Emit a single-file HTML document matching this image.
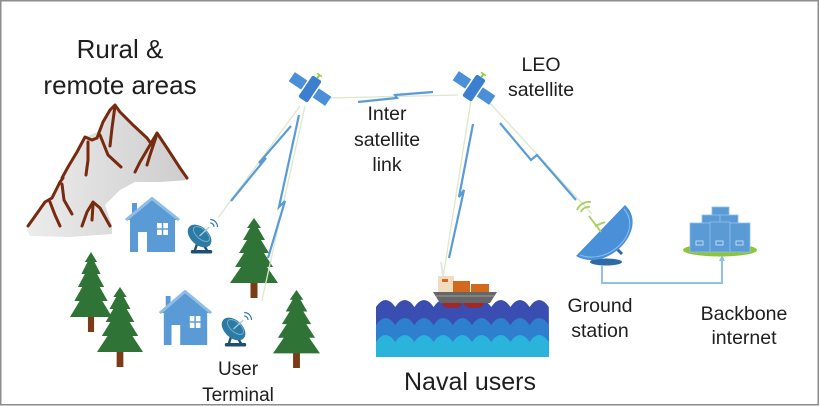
<!DOCTYPE html>
<html><head><meta charset="utf-8">
<style>
html,body{margin:0;padding:0;background:#fff;}
svg{display:block;}
text{font-family:"Liberation Sans",sans-serif;fill:#1e1e1e;}
</style></head><body>
<svg width="820" height="406" viewBox="0 0 820 406" xmlns="http://www.w3.org/2000/svg">
<defs>
<linearGradient id="mg" x1="0" y1="0" x2="1" y2="0">
<stop offset="0" stop-color="#ececec"/><stop offset="1" stop-color="#cdcdcd"/>
</linearGradient>
<symbol id="tree" viewBox="0 0 48 80" preserveAspectRatio="none">
<rect x="20.5" y="60" width="7" height="20" fill="#7a3b16"/>
<polygon points="24,0 31,10 28,10 35,22 31,22 39,35 34,35 43,49 37,49 48,65 0,65 11,49 5,49 14,35 9,35 17,22 13,22 20,10 17,10" fill="#2f7336"/>
</symbol>
<symbol id="house" viewBox="0 0 55 55" preserveAspectRatio="none">
<rect x="7" y="6" width="5" height="12" fill="#5b9bd5"/>
<polygon points="0,23 27,0 55,23 50,23 50,55 5,55 5,23" fill="#5b9bd5"/>
<polyline points="1,23 27,1.5 54,23" fill="none" stroke="#8fbde8" stroke-width="3"/>
<rect x="13" y="35" width="9" height="20" fill="#fff"/>
<rect x="32" y="26" width="11" height="12" fill="#fff"/>
<line x1="37.5" y1="26" x2="37.5" y2="38" stroke="#5b9bd5" stroke-width="1.5"/>
<line x1="32" y1="32" x2="43" y2="32" stroke="#5b9bd5" stroke-width="1.5"/>
</symbol>
<symbol id="dish" viewBox="0 0 34 36" preserveAspectRatio="none">
<path d="M13,24 L10,33 M18,25 L23,33" stroke="#1f4f70" stroke-width="2.5" fill="none"/>
<rect x="6" y="32" width="22" height="3.5" rx="1.5" fill="#1f4f70"/>
<ellipse cx="15" cy="18" rx="14" ry="9" transform="rotate(40 15 18)" fill="#2d7aa4"/>
<ellipse cx="17" cy="16" rx="10" ry="5" transform="rotate(40 17 16)" fill="none" stroke="#6fb0d2" stroke-width="1"/>
<line x1="15" y1="18" x2="25" y2="9" stroke="#a8d0e4" stroke-width="1.3"/>
<path d="M26,5 a4,4 0 0 1 4,4 M26,1.5 a7.5,7.5 0 0 1 7.5,7.5" fill="none" stroke="#2d7aa4" stroke-width="1.2"/>
</symbol>
<symbol id="sat" viewBox="-25 -25 50 50">
<g transform="rotate(34)">
<rect x="-22" y="-5.5" width="15" height="11" fill="#4a8fd8"/>
<rect x="7" y="-5.5" width="15" height="11" fill="#4a8fd8"/>
<rect x="-5.5" y="-13" width="11" height="26" rx="2" fill="#3d7fcf"/>
<line x1="0" y1="-13" x2="0" y2="-17" stroke="#9acd32" stroke-width="2"/>
<line x1="-3" y1="-17" x2="3" y2="-17" stroke="#9acd32" stroke-width="1.5"/>
</g>
</symbol>
</defs>

<rect x="0.75" y="0.75" width="817.5" height="404" fill="#fff" stroke="#8c8c8c" stroke-width="1.5"/>

<!-- Mountains -->
<polygon points="27,230 45,202 55,190 63,178 75,158 85,137 97,132 105,118 115,105 125,115 140,132 150,143 157,133 167,148 180,168 188,180 160,182 135,182 120,190 105,205 112,225 112,234 70,237 30,236" fill="url(#mg)"/>
<g fill="none" stroke="#772a0e" stroke-width="3" stroke-linecap="round" stroke-linejoin="round">
<path d="M97,138 L103,122 L110,110 L115,105 L120,112 L133,125 L147,138 L152,145"/>
<path d="M115,106 L112,128 L110,146"/>
<path d="M100,135 L108,155 L121,167"/>
<path d="M135,172 L140,162 L150,145 L157,133 L167,148 L180,168 L187,178"/>
<path d="M156,137 L150,155 L147,165"/>
<path d="M62,178 L68,167 L77,152 L85,137 L92,140 L97,138"/>
<path d="M88,142 L88,160 L86,175"/>
<path d="M28,226 L38,212 L45,202 L52,198 L56,190 L60,182 L63,178"/>
<path d="M50,202 L55,215 L60,226"/>
<path d="M62,184 L64,200 L72,214"/>
<path d="M82,226 L87,212 L93,202 L100,208 L110,226"/>
<path d="M93,205 L92,220"/>
</g>

<!-- Houses, dishes, trees -->
<use href="#house" x="125" y="197" width="55" height="55"/>
<use href="#house" x="159" y="290" width="53" height="55"/>
<use href="#dish" x="185" y="218" width="33" height="36"/>
<use href="#dish" x="219" y="311" width="33" height="36"/>
<use href="#tree" x="230" y="218" width="48" height="80"/>
<use href="#tree" x="70" y="252" width="42" height="80"/>
<use href="#tree" x="97" y="287" width="46" height="80"/>
<use href="#tree" x="273" y="290" width="47" height="78"/>

<!-- faint link lines -->
<g stroke="#dce8cc" stroke-width="1.3" fill="none">
<path d="M300,106 L218,218"/>
<path d="M305,106 L262,300"/>
<path d="M330,98 L458,95"/>
<path d="M471,100 L443,278"/>
<path d="M487,100 L592,214"/>
</g>
<!-- lightning bolts -->
<g stroke="#5b9bd5" stroke-width="2.2" fill="none" stroke-linejoin="miter">
<path d="M291,126 L259,163 L266,158 L231,201"/>
<path d="M299,115 L279,207 L285,201 L268,258"/>
<path d="M358,102 L397,98 L395,95 L433,92"/>
<path d="M473,124 L459,197 L464,190 L449,258"/>
<path d="M500,123 L531,160 L537,155 L576,200"/>
</g>

<!-- Satellites -->
<use href="#sat" x="285" y="64" width="50" height="50"/>
<use href="#sat" x="449" y="63" width="50" height="50"/>

<!-- Waves -->
<path d="M376,307 q9.6,-14 19.2,0 q9.6,-14 19.2,0 q9.6,-14 19.2,0 q9.6,-14 19.2,0 q9.6,-14 19.2,0 q9.6,-14 19.2,0 q9.6,-14 19.2,0 q9.6,-14 19.2,0 q9.6,-14 19.2,0 L549,357 L376,357 Z" fill="#3a4db0"/>
<path d="M376,325 q9.6,-14 19.2,0 q9.6,-14 19.2,0 q9.6,-14 19.2,0 q9.6,-14 19.2,0 q9.6,-14 19.2,0 q9.6,-14 19.2,0 q9.6,-14 19.2,0 q9.6,-14 19.2,0 q9.6,-14 19.2,0 L549,357 L376,357 Z" fill="#2f7fcf"/>
<path d="M376,342 q9.6,-14 19.2,0 q9.6,-14 19.2,0 q9.6,-14 19.2,0 q9.6,-14 19.2,0 q9.6,-14 19.2,0 q9.6,-14 19.2,0 q9.6,-14 19.2,0 q9.6,-14 19.2,0 q9.6,-14 19.2,0 L549,357 L376,357 Z" fill="#2ab4dc"/>

<!-- Ship -->
<line x1="441" y1="262" x2="443" y2="276" stroke="#e6e6e6" stroke-width="2"/>
<ellipse cx="452" cy="304" rx="10" ry="4" fill="#a3262a"/>
<ellipse cx="474" cy="304" rx="10" ry="4" fill="#a3262a"/>
<rect x="438" y="276" width="16" height="17" fill="#f1dcc0"/>
<rect x="442" y="279" width="6" height="3" fill="#d2691e"/>
<rect x="453" y="281" width="17" height="12" fill="#d2691e"/>
<rect x="471" y="284" width="18" height="9" fill="#d2691e"/>
<polygon points="433,292 497,292 490,303 440,303" fill="#666"/>
<line x1="436" y1="296" x2="494" y2="296" stroke="#8a8a8a" stroke-width="1.5"/>

<!-- Ground station -->
<path d="M592,262 L605,247 M612,244 L622,254" stroke="#2f6aa8" stroke-width="3" fill="none"/>
<ellipse cx="606" cy="262" rx="16" ry="3.5" fill="#2f6aa8"/>
<path d="M625,205 C650,228 608,274 576,256 Z" fill="#4a90d9"/>
<path d="M624,209 C644,232 608,266 580,255" fill="none" stroke="#8ebfee" stroke-width="1"/>
<path d="M601,232 L589,216 M595,226 L605,222" stroke="#a6cf5a" stroke-width="1.8" fill="none"/>
<path d="M581,212 a8,8 0 0 1 9,-5 M577,210 a13,13 0 0 1 14,-8" fill="none" stroke="#a6cf5a" stroke-width="1.8"/>

<!-- Connector -->
<path d="M602,265 L602,283 L722,283 L722,260" fill="none" stroke="#8fc1ea" stroke-width="2"/>
<polygon points="722,255 719,261 725,261" fill="#8fc1ea"/>

<!-- Servers -->
<ellipse cx="720" cy="250" rx="37" ry="6.5" fill="#8cc43c"/>
<rect x="712" y="207" width="17" height="9" fill="#5b9bd5" stroke="#8ebfee" stroke-width="0.8"/>
<rect x="702" y="215" width="18" height="10" fill="#5b9bd5" stroke="#8ebfee" stroke-width="0.8"/>
<rect x="720" y="215" width="18" height="10" fill="#5b9bd5" stroke="#8ebfee" stroke-width="0.8"/>
<rect x="690" y="223" width="20" height="29" fill="#5b9bd5" stroke="#8ebfee" stroke-width="0.8"/>
<rect x="710" y="222" width="20" height="30" fill="#5b9bd5" stroke="#8ebfee" stroke-width="0.8"/>
<rect x="730" y="223" width="20" height="29" fill="#5b9bd5" stroke="#8ebfee" stroke-width="0.8"/>
<g fill="none" stroke="#d6e8f8" stroke-width="0.8">
<rect x="696" y="241" width="7" height="4"/><rect x="716" y="241" width="7" height="4"/><rect x="736" y="241" width="7" height="4"/>
</g>

<!-- Labels -->
<text x="120" y="58" font-size="26" text-anchor="middle">Rural &amp;</text>
<text x="120" y="94" font-size="26" text-anchor="middle">remote areas</text>
<text x="541" y="71" font-size="19.5" text-anchor="middle">LEO</text>
<text x="541" y="96" font-size="19.5" text-anchor="middle">satellite</text>
<text x="387" y="120" font-size="19.5" text-anchor="middle">Inter</text>
<text x="387" y="146" font-size="19.5" text-anchor="middle">satellite</text>
<text x="387" y="171" font-size="19.5" text-anchor="middle">link</text>
<text x="238" y="375" font-size="19" text-anchor="middle">User</text>
<text x="238" y="401" font-size="19" text-anchor="middle">Terminal</text>
<text x="470" y="390" font-size="25" text-anchor="middle">Naval users</text>
<text x="600" y="312" font-size="19.5" text-anchor="middle">Ground</text>
<text x="600" y="337" font-size="19.5" text-anchor="middle">station</text>
<text x="744" y="320" font-size="19.5" text-anchor="middle">Backbone</text>
<text x="744" y="344" font-size="19.5" text-anchor="middle">internet</text>
</svg>
</body></html>
